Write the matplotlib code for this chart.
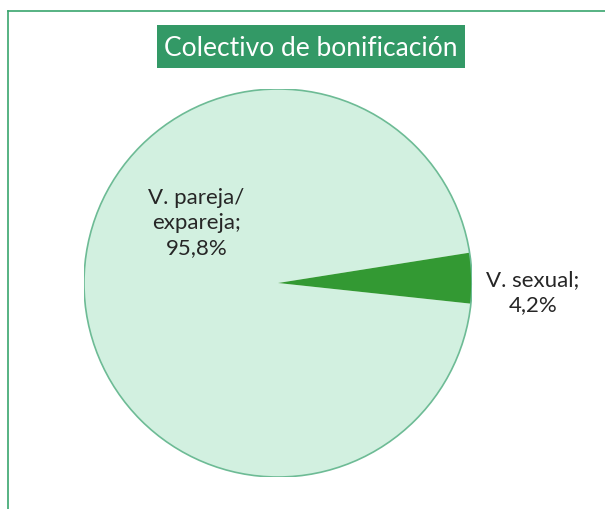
import matplotlib
matplotlib.use("Agg")
import matplotlib.pyplot as plt
from matplotlib.lines import Line2D
from matplotlib.patches import Rectangle

categories = ["V. pareja/\nexpareja", "V. sexual"]
values = [95.8, 4.2]
value_labels = ["95,8%", "4,2%"]
colors = ["#D2F0E0", "#339933"]
title = "Colectivo de bonificación"

plt.rcParams['font.family'] = ['Lato', 'DejaVu Sans']

W, H = 605, 509
fig = plt.figure(figsize=(W/100, H/100), dpi=100)

# frame lines (top and left)
bc = "#3AA56E"
fig.add_artist(Line2D([8/W, 1], [1-11/H, 1-11/H], color=bc, lw=1.2, transform=fig.transFigure))
fig.add_artist(Line2D([8/W, 8/W], [0, 1-11/H], color=bc, lw=1.2, transform=fig.transFigure))

cx, cy, r = 278, 283, 194
ax = fig.add_axes([(cx-r)/W, (H-cy-r)/H, 2*r/W, 2*r/H])
wedges, _ = ax.pie(values, colors=colors, startangle=9, counterclock=True,
                   wedgeprops=dict(linewidth=0))
ax.add_patch(plt.Circle((0, 0), 1, fill=False, edgecolor="#6DBB95", lw=1.2))
ax.set_xlim(-1, 1); ax.set_ylim(-1, 1)
ax.set_aspect('equal')
ax.axis('off')

label_pos = [(-0.42, 0.31), (1.315, -0.05)]
for (x, y), c, v in zip(label_pos, categories, value_labels):
    ax.text(x, y, f"{c};\n{v}", ha='center', va='center', fontsize=16,
            color="#262626", linespacing=1.3)

# title box
bx0, bx1, by0, by1 = 157, 465, 25, 68
fig.add_artist(Rectangle((bx0/W, 1-by1/H), (bx1-bx0)/W, (by1-by0)/H,
                         facecolor='#339966', edgecolor='none', transform=fig.transFigure))
fig.text((bx0+bx1)/2/W, 1-(by0+by1)/2/H, title, ha='center', va='center_baseline',
         fontsize=19, color='white')

fig.savefig("out.png", dpi=100)
